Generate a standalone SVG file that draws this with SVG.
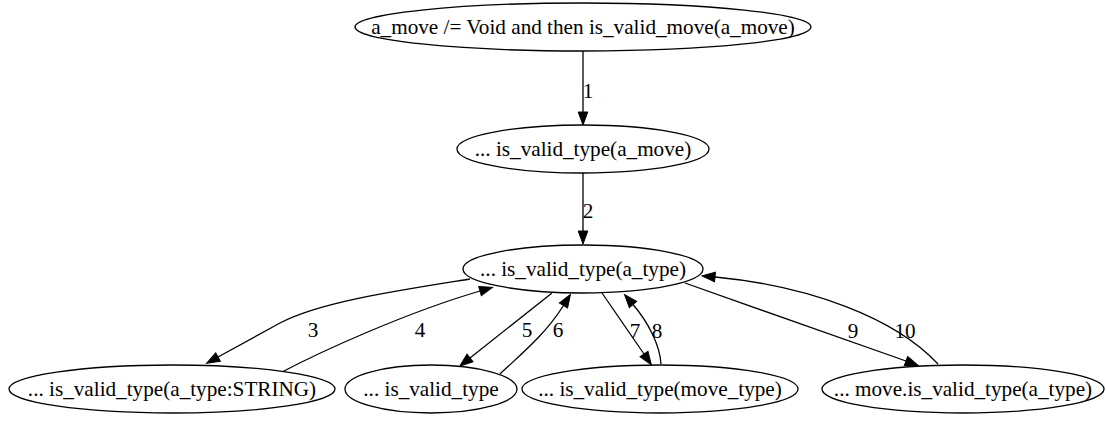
<svg xmlns="http://www.w3.org/2000/svg" width="1106" height="423" viewBox="0 0 1106 423">
  <style>
    .node ellipse { fill: #ffffff; stroke: #000000; stroke-width: 1.3; }
    .node text { font-family: "Liberation Serif", "Times New Roman", serif; font-size: 21.2px; fill: #000000; text-anchor: middle; }
    .edges path { fill: none; stroke: #000000; stroke-width: 1.3; marker-end: url(#arrow); }
    .edges text { font-family: "Liberation Serif", "Times New Roman", serif; font-size: 21.2px; fill: #000000; text-anchor: middle; }
  </style>
  <defs>
    <marker id="arrow" markerUnits="userSpaceOnUse" markerWidth="13" markerHeight="10" viewBox="0 -5 13 10" refX="0" refY="0" orient="auto" overflow="visible">
      <path d="M0,-4.8 L13,0 L0,4.8 z" fill="#000000" stroke="#000000" stroke-width="1"/>
    </marker>
  </defs>
  <rect width="1106" height="423" fill="#ffffff"/>

  <!-- connectors -->
  <g id="edges" class="edges">
    <path d="M583,51 L583,112"/>
    <text x="588" y="98">1</text>
    <path d="M583,173 L583,231"/>
    <text x="588" y="218">2</text>
    <path d="M470,279 C395,291 320,302 280,323 C262,333 240,345 218,357"/>
    <text x="313" y="337">3</text>
    <path d="M282,372 C320,352 405,313 480,291"/>
    <text x="420" y="337">4</text>
    <path d="M552,293 L470,358"/>
    <text x="527" y="337">5</text>
    <path d="M500,374 C520,355 545,335 563.5,305.5"/>
    <text x="558" y="337">6</text>
    <path d="M602,293 L644,354"/>
    <text x="635" y="338">7</text>
    <path d="M661,364 C660,345 648,322 633,304.5"/>
    <text x="657" y="338">8</text>
    <path d="M685,283 C760,310 840,337 906,361"/>
    <text x="853" y="338">9</text>
    <path d="M938,364 C895,318 810,286 715,277"/>
    <text x="905" y="338">10</text>
  </g>

  <g id="node_root" class="node">
    <ellipse cx="583" cy="27" rx="228" ry="24"/>
    <text x="583" y="34">a_move /= Void and then is_valid_move(a_move)</text>
  </g>
  <g id="node_valid_a_move" class="node">
    <ellipse cx="583" cy="149" rx="126" ry="24"/>
    <text x="583" y="156">... is_valid_type(a_move)</text>
  </g>
  <g id="node_valid_a_type" class="node">
    <ellipse cx="583" cy="269" rx="120" ry="24"/>
    <text x="583" y="276">... is_valid_type(a_type)</text>
  </g>
  <g id="node_valid_string" class="node">
    <ellipse cx="172" cy="389" rx="163" ry="24"/>
    <text x="172" y="396">... is_valid_type(a_type:STRING)</text>
  </g>
  <g id="node_valid_plain" class="node">
    <ellipse cx="431" cy="389" rx="86" ry="24"/>
    <text x="431" y="396">... is_valid_type</text>
  </g>
  <g id="node_valid_move_type" class="node">
    <ellipse cx="660" cy="389" rx="138" ry="24"/>
    <text x="660" y="396">... is_valid_type(move_type)</text>
  </g>
  <g id="node_move_valid" class="node">
    <ellipse cx="963" cy="389" rx="141" ry="24"/>
    <text x="963" y="396">... move.is_valid_type(a_type)</text>
  </g>
</svg>
